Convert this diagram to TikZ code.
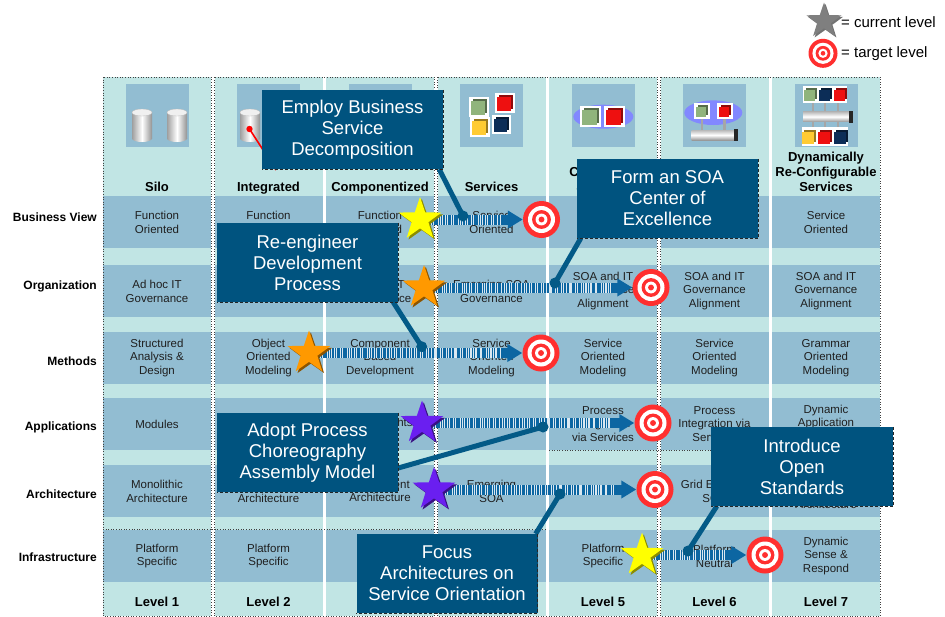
\documentclass[tikz,border=0pt]{standalone}
\usepackage{fontspec}
\setmainfont{Liberation Sans}
\usetikzlibrary{shapes.geometric,calc,arrows.meta,shadows}

\pgfdeclarelayer{back}
\pgfdeclarelayer{flow}
\pgfdeclarelayer{links}
\pgfsetlayers{back,flow,links,main}

\definecolor{colbg}{HTML}{C1E5E4}
\definecolor{band}{HTML}{92BDD2}
\definecolor{boxblue}{HTML}{00537F}
\definecolor{linkblue}{HTML}{035A87}
\definecolor{flowblue}{HTML}{0C66A2}
\definecolor{tgtred}{HTML}{FF2F2F}
\definecolor{oval}{HTML}{8288FF}
\definecolor{cubegreen}{HTML}{90B47C}
\definecolor{cubered}{HTML}{EE1010}
\definecolor{cubeyellow}{HTML}{FFCB33}
\definecolor{cubenavy}{HTML}{0C2D57}
\definecolor{starYellow}{HTML}{FFFF00}
\definecolor{starOrange}{HTML}{FF9900}
\definecolor{starPurple}{HTML}{6A1FF0}
\definecolor{starGray}{HTML}{7F7F7F}

% a small coloured cube: centre x, centre y, side, colour
\newcommand\cubeface[4]{%
  \fill[#4!60!black] (#1-#3/2+2,#2-#3/2) rectangle (#1+#3/2,#2+#3/2-2);
  \fill[#4] (#1-#3/2,#2-#3/2+2) rectangle (#1+#3/2-2,#2+#3/2);
}
% the same cube on a white tile
\newcommand\cubetile[4]{%
  \fill[white] (#1-#3/2-2,#2-#3/2-2) rectangle (#1+#3/2+2,#2+#3/2+2);
  \cubeface{#1}{#2}{#3}{#4}%
}
% a database cylinder: left x, top y
\newcommand\dbcyl[2]{%
  \shade[left color=gray!75, right color=gray!85, middle color=white] (#1,#2+3.5) rectangle (#1+20,#2+29.5);
  \shade[left color=gray!75, right color=gray!85, middle color=white] (#1+10,#2+29.5) ellipse [x radius=10pt, y radius=3.5pt];
  \fill[gray!12] (#1+10,#2+3.5) ellipse [x radius=10pt, y radius=3.5pt];
  \draw[gray!55, line width=0.3pt] (#1+10,#2+3.5) ellipse [x radius=10pt, y radius=3.5pt];
}
% a horizontal bus pipe: x1, y1, x2, y2
\newcommand\buspipe[4]{%
  \shade[top color=gray!55, bottom color=gray!80, middle color=white] (#1,#2) rectangle (#3,#4);
  \fill[black!85] (#3-1,#2-1) rectangle (#3+2.5,#4+1);
}
% a bull's-eye: name, x, y, outer radius
\newcommand\targetmark[4]{%
  \node[circle, fill=tgtred, minimum size=2*#4pt, inner sep=0pt] (#1) at (#2,#3) {};
  \pgfmathsetmacro\tgra{#4*0.73}\pgfmathsetmacro\tgrb{#4*0.51}%
  \pgfmathsetmacro\tgrc{#4*0.32}\pgfmathsetmacro\tgrd{#4*0.16}%
  \fill[white] (#1) circle [radius=\tgra*1pt];
  \fill[tgtred] (#1) circle [radius=\tgrb*1pt];
  \fill[white] (#1) circle [radius=\tgrc*1pt];
  \fill[tgtred] (#1) circle [radius=\tgrd*1pt];
}

\tikzset{
  cell/.style={font=\fontsize{11.5}{13.8}\selectfont, align=center, text=black!88, inner sep=0pt},
  colhead/.style={font=\bfseries\fontsize{13}{14.8}\selectfont, align=center, anchor=south, inner sep=0pt, execute at end node=\strut},
  rowhead/.style={font=\bfseries\fontsize{12}{14}\selectfont, anchor=east, inner sep=0pt},
  levelhead/.style={font=\bfseries\fontsize{13}{15}\selectfont, inner sep=0pt},
  notebox/.style={fill=boxblue, text=white, font=\fontsize{18.5}{21}\selectfont, align=center, inner sep=0pt, minimum width=181pt, minimum height=79pt},
  boxedge/.style={draw=black!85, densely dashed, line width=0.9pt},
  link/.style={draw=linkblue, line width=5pt},
  starnode/.style={star, star points=5, star point ratio=2.55, minimum size=45pt, inner sep=0pt},
  flowarrow/.style={draw=flowblue, line width=10pt, -{Triangle[length=15pt,width=17pt]}},
  flowstripes/.style={draw=white, line width=10pt, opacity=0.85,
    dash pattern=on 0.8pt off 1.4pt on 1.2pt off 1.8pt on 0.6pt off 1.2pt on 1.4pt off 3pt on 0.8pt off 1pt on 1pt off 3.5pt on 0.7pt off 1.5pt},
  legendtext/.style={font=\fontsize{15}{17}\selectfont, anchor=west, inner sep=0pt},
  groupline/.style={draw=black!75, dotted, line width=0.6pt},
}

\begin{document}
\begin{tikzpicture}[x=1pt,y=-1pt]
\useasboundingbox (0,0) rectangle (945,616);

\begin{pgfonlayer}{back}
  % seven maturity columns with their row bands and icon tiles
  \foreach \i in {0,...,6}{
    \pgfmathsetmacro\xl{103+111.5*\i}
    \fill[colbg] (\xl,77) rectangle ++(108,539);
    \foreach \t in {196,265,332,398,465,530}{
      \fill[band] (\xl,\t) rectangle ++(108,52);
    }
    \fill[band] (\xl+22.5,84) rectangle ++(63,63);
  }
  % dotted grouping frames
  \draw[groupline] (103,77) rectangle (211,616);
  \draw[groupline] (214.5,77) rectangle (434,616);
  \draw[groupline] (437.5,77) rectangle (657,616);
  \draw[groupline] (660.5,77) rectangle (880,616);
  \draw[groupline] (103,529) -- (546,529);
  \draw[groupline] (549,450) -- (768,450);

  % icons
  \dbcyl{132}{109}
  \dbcyl{167}{109}
  \dbcyl{240}{109}
  \draw[red, line width=1.6pt] (249.5,129) -- (276,170);
  \fill[red] (249.5,129) circle [radius=3.2pt];

  \cubetile{479}{107}{16}{cubegreen}
  \cubetile{504.5}{103}{16}{cubered}
  \cubetile{479.5}{127}{16}{cubeyellow}
  \cubetile{501}{124.5}{15}{cubenavy}

  \fill[oval] (603.3,116.7) ellipse [x radius=30pt, y radius=12pt];
  \cubetile{590.8}{116.3}{17}{cubegreen}
  \cubetile{614}{116.3}{17}{cubered}

  \fill[oval] (713.3,112.7) ellipse [x radius=29pt, y radius=12.3pt];
  \fill[gray!70] (700.5,118) rectangle (703,131);
  \fill[gray!70] (723,118) rectangle (725.5,131);
  \buspipe{691.7}{130}{735}{140}
  \cubetile{701.7}{110.8}{12}{cubegreen}
  \cubetile{724.7}{110.8}{12}{cubered}

  \fill[white] (803.3,86) rectangle (847.3,103.3);
  \cubeface{810.5}{94.6}{13}{cubegreen}
  \cubeface{825.3}{94.6}{13}{cubenavy}
  \cubeface{840}{94.6}{13}{cubered}
  \foreach \px in {812.7,825,837.7}{
    \fill[gray!70] (\px-1.2,103) rectangle (\px+1.2,128);
  }
  \buspipe{803}{111.7}{850}{121.7}
  \fill[white] (801.7,127.3) rectangle (848.3,146);
  \cubeface{809}{136.6}{14}{cubeyellow}
  \cubeface{825}{136.6}{14}{cubered}
  \cubeface{841}{136.6}{14}{cubenavy}

  % column headings
  \node[colhead] (h1) at (157,195.9) {Silo};
  \node[colhead] (h2) at (268.5,195.9) {Integrated};
  \node[colhead] (h3) at (380,195.9) {Componentized};
  \node[colhead] (h4) at (491.5,195.9) {Services};
  \node[colhead] (h5) at (603,195.9) {Composite\\Services};
  \node[colhead] (h7) at (826,195.9) {Dynamically\\Re-Configurable\\Services};

  % row headings
  \node[rowhead] (rbv) at (97,217) {Business View};
  \node[rowhead] (ror) at (97,286) {Organization};
  \node[rowhead] (rme) at (97,361) {Methods};
  \node[rowhead] (rap) at (97,427) {Applications};
  \node[rowhead] (rar) at (97,494) {Architecture};
  \node[rowhead] (rin) at (97,557) {Infrastructure};

  % Business View
  \node[cell] (c11) at (157,222) {Function\\Oriented};
  \node[cell] (c12) at (268.5,222) {Function\\Oriented};
  \node[cell] (c13) at (380,222) {Function\\Oriented};
  \node[cell] (c14) at (491.5,222) {Service\\Oriented};
  \node[cell] (c17) at (826,222) {Service\\Oriented};
  % Organization
  \node[cell] (c21) at (157,291) {Ad hoc IT\\Governance};
  \node[cell] (c23) at (380,291) {Ad hoc IT\\Governance};
  \node[cell] (c24) at (491.5,291) {Emerging SOA\\Governance};
  \node[cell] (c25) at (603,291) {SOA and IT\\Governance\\Alignment};
  \node[cell] (c26) at (714.5,291) {SOA and IT\\Governance\\Alignment};
  \node[cell] (c27) at (826,291) {SOA and IT\\Governance\\Alignment};
  % Methods
  \node[cell] (c31) at (157,358) {Structured\\Analysis \&\\Design};
  \node[cell] (c32) at (268.5,358) {Object\\Oriented\\Modeling};
  \node[cell] (c33) at (380,358) {Component\\Based\\Development};
  \node[cell] (c34) at (491.5,358) {Service\\Oriented\\Modeling};
  \node[cell] (c35) at (603,358) {Service\\Oriented\\Modeling};
  \node[cell] (c36) at (714.5,358) {Service\\Oriented\\Modeling};
  \node[cell] (c37) at (826,358) {Grammar\\Oriented\\Modeling};
  % Applications
  \node[cell] (c41) at (157,424) {Modules};
  \node[cell] (c43) at (380,424) {Components};
  \node[cell] (c45) at (603,424) {Process\\Integration\\via Services};
  \node[cell] (c46) at (714.5,424) {Process\\Integration via\\Services};
  \node[cell] (c47) at (826,424) {Dynamic\\Application\\Assembly};
  % Architecture
  \node[cell] (c51) at (157,491) {Monolithic\\Architecture};
  \node[cell] (c52) at (268.5,491) {Layered\\Architecture};
  \node[cell] (c53) at (380,491) {Component\\Architecture};
  \node[cell] (c54) at (491.5,491) {Emerging\\SOA};
  \node[cell] (c55) at (603,491) {SOA};
  \node[cell] (c56) at (714.5,491) {Grid Enabled\\SOA};
  \node[cell] (c57) at (826,491) {Dynamically\\Re-Configurable\\Architecture};
  % Infrastructure
  \node[cell] (c61) at (157,556) {Platform\\Specific};
  \node[cell] (c62) at (268.5,556) {Platform\\Specific};
  \node[cell] (c65) at (603,556) {Platform\\Specific};
  \node[cell] (c66) at (714.5,556) {Platform\\Neutral};
  \node[cell] (c67) at (826,556) {Dynamic\\Sense \&\\Respond};

  % level row
  \node[levelhead] (l1) at (157,601.7) {Level 1};
  \node[levelhead] (l2) at (268.5,601.7) {Level 2};
  \node[levelhead] (l5) at (603,601.7) {Level 5};
  \node[levelhead] (l6) at (714.5,601.7) {Level 6};
  \node[levelhead] (l7) at (826,601.7) {Level 7};
\end{pgfonlayer}

% current levels
\node[starnode, fill=starYellow, drop shadow={shadow xshift=1.8pt, shadow yshift=-1.8pt, fill=starYellow!55!black, opacity=1}] (s1) at (420,219.5) {};
\node[starnode, fill=starOrange, drop shadow={shadow xshift=1.8pt, shadow yshift=-1.8pt, fill=starOrange!55!black, opacity=1}] (s2) at (424,287.5) {};
\node[starnode, fill=starOrange, drop shadow={shadow xshift=1.8pt, shadow yshift=-1.8pt, fill=starOrange!55!black, opacity=1}] (s3) at (309,353) {};
\node[starnode, fill=starPurple, drop shadow={shadow xshift=1.8pt, shadow yshift=-1.8pt, fill=starPurple!55!black, opacity=1}] (s4) at (422,423) {};
\node[starnode, fill=starPurple, drop shadow={shadow xshift=1.8pt, shadow yshift=-1.8pt, fill=starPurple!55!black, opacity=1}] (s5) at (434,489.5) {};
\node[starnode, fill=starYellow, drop shadow={shadow xshift=1.8pt, shadow yshift=-1.8pt, fill=starYellow!55!black, opacity=1}] (s6) at (642,555) {};

% target levels
\targetmark{t1}{541.5}{219.5}{18.5}
\targetmark{t2}{651}{287.5}{18.5}
\targetmark{t3}{541}{353}{18.5}
\targetmark{t4}{653}{423}{18.5}
\targetmark{t5}{655}{489.5}{18.5}
\targetmark{t6}{765}{555}{18.5}

% progress arrows from current to target level
\begin{pgfonlayer}{flow}
  \foreach \a/\b in {s1/t1,s2/t2,s3/t3,s4/t4,s5/t5,s6/t6}{
    \draw[flowarrow] (\a.center) -- (\b.west);
    \draw[flowstripes] (\a.center) -- ($(\b.west)+(-22,0)$);
  }
\end{pgfonlayer}

% legend
\node[starnode, minimum size=37pt, fill=starGray, drop shadow={shadow xshift=1.5pt, shadow yshift=-1.5pt, fill=black!55, opacity=1}] (ls) at (824,21) {};
\targetmark{lt}{823}{53.3}{14.5}
\node[legendtext] (lst) at (841,21.7) {= current level};
\node[legendtext] (ltt) at (841,53.3) {= target level};

% initiative call-outs
\node[notebox] (A) at (352.5,129.5) {Employ Business\\Service\\Decomposition};
\node[notebox] (B) at (307.5,262.5) {Re-engineer\\Development\\Process};
\node[notebox] (C) at (667.5,198.5) {Form an SOA\\Center of\\Excellence};
\node[notebox] (D) at (307.5,452.5) {Adopt Process\\Choreography\\Assembly Model};
\node[notebox] (E) at (447,573.5) {Focus\\Architectures on\\Service Orientation};
\node[notebox, minimum width=182pt] (F) at (802,466.5) {Introduce\\Open\\Standards};
\foreach \n in {A,B,C,D,E,F}{
  \draw[boxedge] (\n.north east) -- (\n.south east) -- (\n.south west);
}

\coordinate (d1) at (463,216);
\coordinate (d2) at (421.7,346.7);
\coordinate (d3) at (555,283);
\coordinate (d4) at (543,427);
\coordinate (d5) at (560,494);
\coordinate (d6) at (688,551);

\begin{pgfonlayer}{links}
  \draw[link] ($(A.south east)+(-4,0)$) -- (d1);
  \draw[link] ($(B.south east)+(-5,0)$) -- (d2);
  \draw[link] ($(C.south west)+(4,0)$) -- (d3);
  \draw[link] ($(D.east)+(0,15.5)$) -- (d4);
  \draw[link] ($(E.north east)+(-2,0)$) -- (d5);
  \draw[link] ($(F.south west)+(6,0)$) -- (d6);
  \foreach \d in {d1,d2,d3,d4,d5,d6}{
    \fill[linkblue] (\d) circle [radius=5.5pt];
  }
\end{pgfonlayer}
\end{tikzpicture}
\end{document}
